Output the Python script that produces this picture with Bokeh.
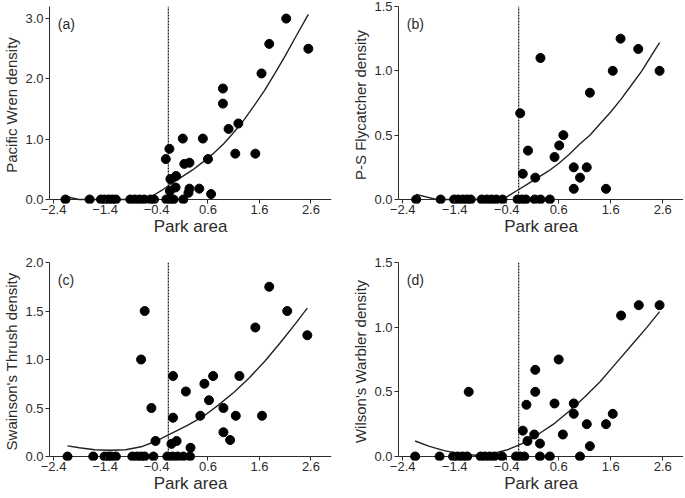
from bokeh.plotting import figure
from bokeh.layouts import column, row
from bokeh.models import FixedTicker, PrintfTickFormatter, Span, Label, Range1d
from bokeh.embed import file_html
from bokeh.resources import INLINE

# ---------------- data ----------------
x_ticks = [-2.4, -1.4, -0.4, 0.6, 1.6, 2.6]
threshold_x = -0.17

# (a) Pacific Wren
a_x = [-2.17, -1.70, -1.48, -1.41, -1.33, -1.26, -1.19, -0.91, -0.82, -0.73, -0.64, -0.52, -0.45,
       -0.21, -0.13, -0.07, 0.12,
       2.12, 1.79, 2.55, 1.64, 0.89, 0.89, 1.00, 1.19, 1.13, 1.52, 0.11, 0.50, -0.15, -0.22,
       0.60, 0.14, 0.24, -0.13, -0.02, -0.03, -0.14, 0.24, 0.22, 0.43, 0.66]
a_y = [0, 0, 0, 0, 0, 0, 0, 0, 0, 0, 0, 0, 0,
       0, 0, 0, 0,
       3.0, 2.58, 2.50, 2.09, 1.84, 1.59, 1.17, 1.26, 0.76, 0.76, 1.01, 1.01, 0.84, 0.67,
       0.67, 0.59, 0.61, 0.34, 0.39, 0.20, 0.14, 0.18, 0.11, 0.18, 0.09]
a_fit_x = [-2.17, -1.91, -0.65, -0.5, -0.3, -0.1, 0.1, 0.3, 0.5, 0.7, 0.9, 1.1, 1.3, 1.5, 1.7, 1.9, 2.1, 2.3, 2.55]
a_fit_y = [0.05, 0.0, 0.0, 0.05, 0.15, 0.27, 0.38, 0.49, 0.62, 0.76, 0.92, 1.11, 1.32, 1.56, 1.81, 2.09, 2.38, 2.69, 3.07]

# (b) Pacific-slope Flycatcher
b_x = [-2.14, -1.67, -1.41, -1.33, -1.24, -1.16, -1.09, -0.88, -0.78, -0.69, -0.60, -0.48,
       -0.19, -0.11, -0.03, 0.14, 0.25, 0.43,
       1.79, 2.13, 2.54, 1.64, 1.20, 0.25, -0.14, 0.01, 0.69, 0.61, 0.52, -0.09, 0.15,
       0.89, 1.14, 1.01, 0.89, 1.51]
b_y = [0, 0, 0, 0, 0, 0, 0, 0, 0, 0, 0, 0,
       0, 0, 0, 0, 0, 0,
       1.25, 1.17, 1.00, 1.00, 0.83, 1.10, 0.67, 0.38, 0.50, 0.42, 0.33, 0.20, 0.17,
       0.25, 0.25, 0.17, 0.083, 0.083]
b_fit_x = [-2.14, -1.75, -0.6, -0.4, -0.2, 0.0, 0.2, 0.4, 0.6, 0.8, 1.0, 1.2, 1.4, 1.6, 1.8, 2.0, 2.2, 2.4, 2.54]
b_fit_y = [0.04, 0.0, 0.0, 0.02, 0.07, 0.12, 0.17, 0.22, 0.28, 0.35, 0.43, 0.50, 0.59, 0.68, 0.78, 0.89, 1.00, 1.13, 1.22]

# (c) Swainson's Thrush
c_x = [-2.13, -1.63, -1.41, -1.34, -1.28, -1.19, -0.87, -0.78, -0.70, -0.63, -0.46,
       -0.19, -0.09, 0.01, 0.12, 0.25,
       1.79, 2.14, 2.53, 1.52, 1.65, 1.21, 0.70, 0.53, 0.62, 0.17, -0.08, -0.08, 0.45,
       0.90, 1.14, 0.90, 1.03, -0.01, -0.11, 0.26, -0.42, -0.50, -0.63, -0.70]
c_y = [0, 0, 0, 0, 0, 0, 0, 0, 0, 0, 0,
       0, 0, 0, 0, 0,
       1.75, 1.50, 1.25, 1.33, 0.42, 0.83, 0.83, 0.75, 0.58, 0.67, 0.83, 0.40, 0.42,
       0.50, 0.42, 0.25, 0.17, 0.16, 0.13, 0.09, 0.16, 0.50, 1.50, 1.00]
c_fit_x = [-2.13, -1.9, -1.6, -1.3, -1.0, -0.7, -0.4, -0.1, 0.2, 0.5, 0.8, 1.1, 1.4, 1.7, 2.0, 2.3, 2.53]
c_fit_y = [0.11, 0.09, 0.07, 0.065, 0.07, 0.10, 0.16, 0.24, 0.32, 0.41, 0.53, 0.66, 0.81, 0.98, 1.17, 1.37, 1.53]

# (d) Wilson's Warbler
d_x = [-2.16, -1.69, -1.43, -1.34, -1.25, -1.16, -0.90, -0.82, -0.73, -0.64, -0.49,
       -0.22, -0.14, -0.06, 0.24, 0.43, 1.01,
       2.14, 2.54, 1.80, 0.60, 0.15, 0.15, -0.02, 0.52, 0.89, 0.89, 1.64, 1.14, 1.51,
       -0.09, 0.13, 0.68, 0.00, 0.24, 1.20, -1.13]
d_y = [0, 0, 0, 0, 0, 0, 0, 0, 0, 0, 0,
       0, 0, 0, 0, 0, 0,
       1.17, 1.17, 1.09, 0.75, 0.67, 0.50, 0.40, 0.41, 0.41, 0.33, 0.33, 0.25, 0.25,
       0.20, 0.17, 0.17, 0.12, 0.10, 0.08, 0.50]
d_fit_x = [-2.16, -1.9, -1.6, -1.3, -1.0, -0.7, -0.4, -0.1, 0.2, 0.5, 0.8, 1.1, 1.4, 1.7, 2.0, 2.3, 2.54]
d_fit_y = [0.12, 0.08, 0.045, 0.02, 0.01, 0.02, 0.05, 0.10, 0.17, 0.25, 0.35, 0.46, 0.58, 0.72, 0.86, 1.00, 1.12]

# ---------------- style ----------------
FONT = "Liberation Sans"
INK = "#2b2b2b"
EXT_PX = 4


def panel(xs, ys, fx, fy, ylabel, letter, ytop, yticks, fw, fh, mb_left, mb_right, mb_top):
    s = EXT_PX * ytop / (fh - EXT_PX)
    p = figure(frame_width=fw, frame_height=fh, min_border_left=mb_left, min_border_right=mb_right,
               min_border_top=mb_top, min_border_bottom=0,
               x_range=Range1d(-2.48, 3.0), y_range=Range1d(-s, ytop),
               output_backend="svg", toolbar_location=None)
    p.outline_line_color = None
    p.xgrid.visible = False
    p.ygrid.visible = False
    p.background_fill_color = "white"
    p.border_fill_color = "white"

    # x axis (line drawn at y=0 by a span, ticks reach from frame bottom up to y=0)
    xa = p.xaxis[0]
    xa.ticker = FixedTicker(ticks=x_ticks)
    xa.axis_line_color = None
    xa.major_tick_in = EXT_PX
    xa.major_tick_out = 0
    xa.minor_tick_line_color = None
    xa.major_tick_line_color = INK
    xa.major_label_standoff = 1
    xa.major_label_text_font = FONT
    xa.major_label_text_font_size = "13px"
    xa.major_label_text_color = INK
    xa.axis_label = "Park area"
    xa.axis_label_text_font = FONT
    xa.axis_label_text_font_size = "17px"
    xa.axis_label_text_font_style = "normal"
    xa.axis_label_text_color = INK
    xa.axis_label_standoff = 0

    ya = p.yaxis[0]
    ya.ticker = FixedTicker(ticks=yticks)
    ya.formatter = PrintfTickFormatter(format="%.1f")
    ya.bounds = (0, ytop)
    ya.axis_line_color = INK
    ya.major_tick_line_color = INK
    ya.major_tick_in = 0
    ya.major_tick_out = 4
    ya.minor_tick_line_color = None
    ya.major_label_standoff = 2
    ya.major_label_text_font = FONT
    ya.major_label_text_font_size = "13px"
    ya.major_label_text_color = INK
    ya.axis_label = ylabel
    ya.axis_label_text_font = FONT
    ya.axis_label_text_font_size = "15px"
    ya.axis_label_text_font_style = "normal"
    ya.axis_label_text_color = INK
    ya.axis_label_standoff = 2

    p.add_layout(Span(location=0, dimension="width", line_color=INK, line_width=1, level="underlay"))
    p.segment(x0=[threshold_x], y0=[0], x1=[threshold_x], y1=[ytop],
              line_color="#222222", line_width=1.3, line_dash="2 1")
    p.line(fx, fy, line_color="#222222", line_width=1.4)
    p.scatter(xs, ys, size=9, fill_color="black", line_color="black")
    p.add_layout(Label(x=-2.32, y=ytop * 0.91, text=letter, text_font=FONT, text_font_size="14px",
                       text_color=INK, text_baseline="middle", text_align="left"))
    return p


L_FW, R_FW = 282, 285
TOP_FH, BOT_FH = 197, 198

pa = panel(a_x, a_y, a_fit_x, a_fit_y, "Pacific Wren density", "(a)", 3.2, [0, 1, 2, 3],
           L_FW, TOP_FH, 42, 18, 6)
pb = panel(b_x, b_y, b_fit_x, b_fit_y, "P-S Flycatcher density", "(b)", 1.5, [0, 0.5, 1.0, 1.5],
           R_FW, TOP_FH, 42, 0, 6)
pc = panel(c_x, c_y, c_fit_x, c_fit_y, "Swainson's Thrush density", "(c)", 2.0, [0, 0.5, 1.0, 1.5, 2.0],
           L_FW, BOT_FH, 42, 18, 24)
pd = panel(d_x, d_y, d_fit_x, d_fit_y, "Wilson's Warbler density", "(d)", 1.5, [0, 0.5, 1.0, 1.5],
           R_FW, BOT_FH, 42, 0, 24)

layout = column(row(pa, pb), row(pc, pd))

open("out.html", "w").write(file_html(layout, INLINE))
